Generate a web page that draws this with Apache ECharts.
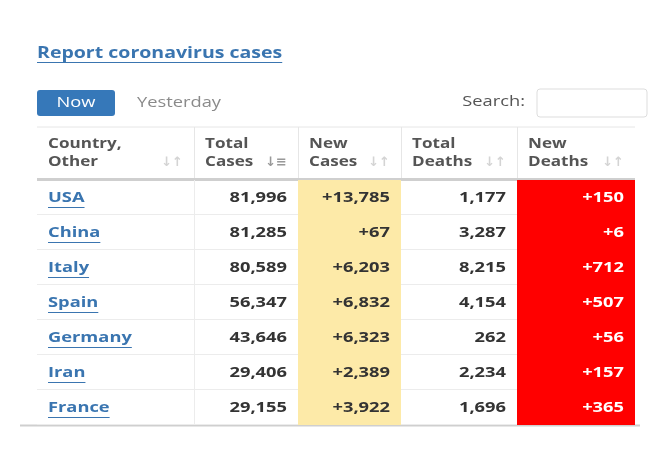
<!DOCTYPE html>
<html><head><meta charset="utf-8">
<script src="https://cdn.jsdelivr.net/npm/echarts@6/dist/echarts.min.js"></script>
<style>html,body{margin:0;padding:0;background:#fff}#c{width:661px;height:466px}</style>
</head><body><div id="c"></div>
<script>
const countries = ['USA','China','Italy','Spain','Germany','Iran','France'];
const totalCases = ['81,996','81,285','80,589','56,347','43,646','29,406','29,155'];
const newCases = ['+13,785','+67','+6,203','+6,832','+6,323','+2,389','+3,922'];
const totalDeaths = ['1,177','3,287','8,215','4,154','262','2,234','1,696'];
const newDeaths = ['+150','+6','+712','+507','+56','+157','+365'];
const headers = [['Country,','Other'],['Total','Cases'],['New','Cases'],['Total','Deaths'],['New','Deaths']];

// layout (column edges relative to table left)
const colEdges = [0,157,261,364,480,598];
const FONT = '"Open Sans", "DejaVu Sans", sans-serif';
const SX = 1.22;
const cols = [countries,totalCases,newCases,totalDeaths,newDeaths];
const fills = [null,null,'#fdeaa8',null,'#ff0000'];

const ctx = document.createElement('canvas').getContext('2d');
function tw(t,f){ctx.font=f;return ctx.measureText(t).width;}

const data = [];
countries.forEach((c,r)=>{ for(let k=0;k<5;k++) data.push([colEdges[k],r,colEdges[k+1],k]); });

const TITLE_F='bold 16px '+FONT;
const chart = echarts.init(document.getElementById('c'));
const graphic = [
  {type:'text',x:37,y:53,scaleX:SX,style:{text:'Report coronavirus cases',font:TITLE_F,fill:'#3a75b0',verticalAlign:'middle'}},
  {type:'line',shape:{x1:37,y1:62.5,x2:37+tw('Report coronavirus cases',TITLE_F)*SX,y2:62.5},style:{stroke:'#3a75b0',lineWidth:1}},
  {type:'rect',shape:{x:37,y:90,width:78,height:26,r:3},style:{fill:'#3678b9'}},
  {type:'text',x:76,y:103,scaleX:SX,style:{text:'Now',font:'15px '+FONT,fill:'#fff',align:'center',verticalAlign:'middle'}},
  {type:'text',x:137,y:103,scaleX:SX,style:{text:'Yesterday',font:'15px '+FONT,fill:'#8a8a8a',verticalAlign:'middle'}},
  {type:'text',x:525,y:102,scaleX:SX,style:{text:'Search:',font:'15px '+FONT,fill:'#555',align:'right',verticalAlign:'middle'}},
  {type:'rect',shape:{x:537,y:89,width:110,height:28,r:3},style:{fill:'#fff',stroke:'#ddd',lineWidth:1}},
  {type:'line',shape:{x1:37,y1:127,x2:635,y2:127},style:{stroke:'#e6e6e6'}},
  {type:'rect',shape:{x:37,y:178,width:598,height:3},style:{fill:'#cfcfcf'}},
  {type:'line',shape:{x1:20,y1:425.5,x2:640,y2:425.5},style:{stroke:'#cfcfcf',lineWidth:2}}
];
headers.forEach((h,k)=>{
  const x0 = 37+colEdges[k], x1 = 37+colEdges[k+1];
  graphic.push({type:'text',x:x0+11,y:144,scaleX:SX,style:{text:h[0],font:'bold 14px '+FONT,fill:'#555',verticalAlign:'middle'}});
  graphic.push({type:'text',x:x0+11,y:162,scaleX:SX,style:{text:h[1],font:'bold 14px '+FONT,fill:'#555',verticalAlign:'middle'}});
  graphic.push({type:'text',x:x1-11,y:162,style:{text:k===1?'↓≡':'↓↑',font:'bold 13px '+FONT,fill:k===1?'#999':'#d4d4d4',align:'right',verticalAlign:'middle'}});
  if(k>0) graphic.push({type:'line',shape:{x1:x0+0.5,y1:127,x2:x0+0.5,y2:178},style:{stroke:'#e6e6e6'}});
});

const CELL_F='bold 15px '+FONT;
chart.setOption({
  animation:false,
  grid:{left:37,right:26,top:180,bottom:41},
  xAxis:{type:'value',min:0,max:598,show:false},
  yAxis:{type:'category',data:countries,inverse:true,show:false},
  graphic:graphic,
  series:[{
    type:'custom',data:data,
    encode:{x:[0,2],y:1},
    renderItem:function(params,api){
      const k=api.value(3), r=api.value(1);
      const p0=api.coord([api.value(0),r]), p1=api.coord([api.value(2),r]);
      const h=api.size([0,1])[1];
      const top=p0[1]-h/2;
      const children=[];
      if(fills[k]) children.push({type:'rect',shape:{x:p0[0],y:top,width:p1[0]-p0[0],height:h},style:{fill:fills[k]}});
      if(!fills[k]){
        children.push({type:'line',shape:{x1:p0[0],y1:top+h-0.5,x2:p1[0],y2:top+h-0.5},style:{stroke:'#ececec'}});
      }
      if(k>0 && !fills[k] && !fills[k-1]) children.push({type:'line',shape:{x1:p0[0]+0.5,y1:top,x2:p0[0]+0.5,y2:top+h},style:{stroke:'#ececec'}});
      const txt=cols[k][r];
      if(k===0){
        children.push({type:'text',x:p0[0]+11,y:p0[1],scaleX:SX,style:{text:txt,font:CELL_F,fill:'#3a75b0',verticalAlign:'middle'}});
        children.push({type:'line',shape:{x1:p0[0]+11,y1:p0[1]+10,x2:p0[0]+11+tw(txt,CELL_F)*SX,y2:p0[1]+10},style:{stroke:'#3a75b0',lineWidth:1}});
      } else {
        children.push({type:'text',x:p1[0]-11,y:p0[1],scaleX:SX,style:{text:txt,font:CELL_F,fill:k===4?'#fff':'#333',align:'right',verticalAlign:'middle'}});
      }
      return {type:'group',children:children};
    }
  }]
});
</script></body></html>
